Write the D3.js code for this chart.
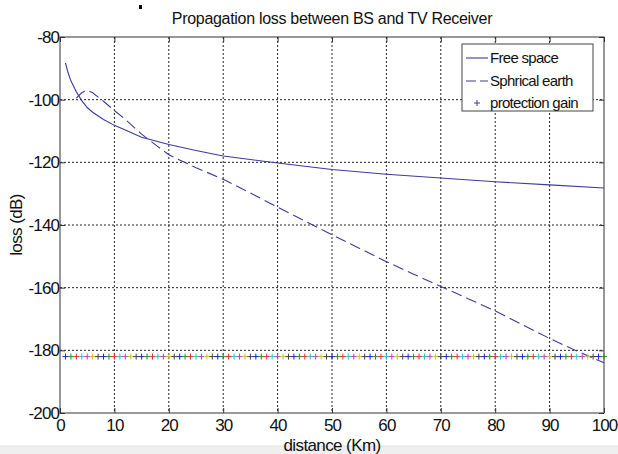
<!DOCTYPE html>
<html>
<head>
<meta charset="utf-8">
<script src="https://d3js.org/d3.v7.min.js"></script>
<style>
body { margin: 0; background: #fff; }
text { font-family: "Liberation Sans", Arial, sans-serif; fill: #111; }
</style>
</head>
<body>
<div id="chart"></div>
<script>

// free space loss
var freeDist = [1, 1.5, 2, 3, 4, 5, 6, 8, 10, 12, 15, 20, 25, 30, 40, 50, 60, 70, 80, 90, 100];
var freeLoss = [-88.3, -91.5, -94, -97.5, -100.3, -102.5, -104, -106.3, -108.2, -109.7, -112,
                -114.3, -116.2, -118, -120.2, -122.3, -123.8, -125, -126.2, -127.2, -128.2];

// spherical earth
var earthDist = [3, 4, 5, 6, 8, 10, 12, 15, 18, 20, 25, 30, 35, 40, 45, 50, 55, 60, 65, 70, 75, 80, 85, 90, 95, 100];
var earthLoss = [-99.5, -97.8, -97, -97.8, -100.5, -103.5, -106.3, -111, -115, -117.6, -121.7, -125.4,
                 -129.8, -134.3, -138.7, -143.1, -147.4, -151.7, -155.7, -159.6, -163.5, -167.4,
                 -171.8, -176.2, -180.2, -184];

// protection gain: one constant value at each km
var protDist = d3.range(1, 101);
var protGain = -182;

var xTicks = [0, 10, 20, 30, 40, 50, 60, 70, 80, 90, 100];
var yTicks = [-80, -100, -120, -140, -160, -180, -200];
var legendNames = ["Free space", "Sphrical earth", "protection gain"];
var markColors = ["#2222cc", "#2a8a2a", "#e03333", "#33bfbf", "#c03fc0", "#c2c23a", "#444444"];

var W = 618, H = 454;
var margin = {top: 37, right: 14, bottom: 41, left: 60},
    width = W - margin.left - margin.right,
    height = H - margin.top - margin.bottom;

var root = d3.select("#chart").append("svg")
  .attr("width", W)
  .attr("height", H);

root.append("rect").attr("width", W).attr("height", H).attr("fill", "#fff");

var svg = root.append("g")
  .attr("transform", "translate(" + margin.left + "," + margin.top + ")");

var x = d3.scaleLinear().domain([0, 100]).range([0, width]);
var y = d3.scaleLinear().domain([-200, -80]).range([height, 0]);

// grid
svg.selectAll("vgrid")
  .data(xTicks.slice(1, -1))
  .enter().append("line")
    .attr("x1", d => x(d)).attr("x2", d => x(d))
    .attr("y1", 0).attr("y2", height)
    .attr("stroke", "#222").attr("stroke-dasharray", "2,2");
svg.selectAll("hgrid")
  .data(yTicks.slice(1, -1))
  .enter().append("line")
    .attr("x1", 0).attr("x2", width)
    .attr("y1", d => y(d)).attr("y2", d => y(d))
    .attr("stroke", "#222").attr("stroke-dasharray", "2,2");

// axes (ticks inside, matlab style)
var fmt = d => String(d);
svg.append("g")
  .attr("transform", "translate(0," + height + ")")
  .call(d3.axisBottom(x).tickValues(xTicks).tickFormat(fmt).tickSize(-5).tickPadding(6))
  .call(g => g.select(".domain").remove());
svg.append("g")
  .call(d3.axisTop(x).tickValues(xTicks).tickSize(-5).tickFormat(""))
  .call(g => g.select(".domain").remove());
svg.append("g")
  .call(d3.axisLeft(y).tickValues(yTicks).tickFormat(fmt).tickSize(-5).tickPadding(1))
  .call(g => g.select(".domain").remove());
svg.append("g")
  .attr("transform", "translate(" + width + ",0)")
  .call(d3.axisRight(y).tickValues(yTicks).tickSize(-5).tickFormat(""))
  .call(g => g.select(".domain").remove());

svg.selectAll(".tick line").attr("stroke", "#333");
svg.selectAll(".tick text")
  .style("font-size", "17px")
  .style("letter-spacing", "-0.9px")
  .attr("fill", "#111");

svg.append("rect")
  .attr("width", width).attr("height", height)
  .attr("fill", "none").attr("stroke", "#333");

// series
var lineFn = d3.line().x(d => x(d[0])).y(d => y(d[1]));

svg.append("path")
  .datum(freeDist.map((d, i) => [d, freeLoss[i]]))
  .attr("d", lineFn)
  .attr("fill", "none")
  .attr("stroke", "#3b3b9e")
  .attr("stroke-width", 1.1);

svg.append("path")
  .datum(earthDist.map((d, i) => [d, earthLoss[i]]))
  .attr("d", lineFn)
  .attr("fill", "none")
  .attr("stroke", "#3b3b9e")
  .attr("stroke-width", 1.1)
  .attr("stroke-dasharray", "11,5");

svg.selectAll("mark")
  .data(protDist)
  .enter().append("path")
    .attr("transform", d => "translate(" + x(d) + "," + y(protGain) + ")")
    .attr("d", "M-3,0H3M0,-3V3")
    .attr("stroke", (d, i) => markColors[i % markColors.length])
    .attr("stroke-width", 1)
    .attr("fill", "none");

// legend
var lg = root.append("g").attr("transform", "translate(462,44)");
lg.append("rect")
  .attr("width", 131).attr("height", 67)
  .attr("fill", "#fff").attr("stroke", "#444");
var rowY = [14, 37, 59];
lg.append("line").attr("x1", 4).attr("x2", 26).attr("y1", rowY[0]).attr("y2", rowY[0])
  .attr("stroke", "#3b3b9e").attr("stroke-width", 1.1);
lg.append("line").attr("x1", 4).attr("x2", 26).attr("y1", rowY[1]).attr("y2", rowY[1])
  .attr("stroke", "#3b3b9e").attr("stroke-width", 1.1).attr("stroke-dasharray", "10,4");
lg.append("path").attr("transform", "translate(15," + rowY[2] + ")")
  .attr("d", "M-3,0H3M0,-3V3").attr("stroke", "#3b3b9e").attr("fill", "none");
lg.selectAll("lt")
  .data(legendNames)
  .enter().append("text")
    .attr("x", 28).attr("y", (d, i) => rowY[i])
    .attr("dy", "0.35em")
    .style("font-size", "15px")
    .style("letter-spacing", "-0.7px")
    .text(d => d);

// title + labels
root.append("text")
  .attr("x", margin.left + width / 2).attr("y", 24)
  .attr("text-anchor", "middle")
  .style("font-size", "16px")
  .style("letter-spacing", "-0.3px")
  .text("Propagation loss between BS and TV Receiver");

root.append("rect").attr("x", 139).attr("y", 5).attr("width", 3).attr("height", 4).attr("fill", "#000");

root.append("text")
  .attr("transform", "translate(22," + (margin.top + height / 2) + ") rotate(-90)")
  .attr("text-anchor", "middle")
  .style("font-size", "17px")
  .style("letter-spacing", "-0.6px")
  .text("loss (dB)");

// grey strip at the bottom of the screenshot
root.append("rect").attr("x", 0).attr("y", 446).attr("width", W).attr("height", 8).attr("fill", "#efefef");
root.append("line").attr("x1", 0).attr("x2", W).attr("y1", 446).attr("y2", 446).attr("stroke", "#e2e2e2");

root.append("text")
  .attr("x", margin.left + width / 2).attr("y", 451)
  .attr("text-anchor", "middle")
  .style("font-size", "17px")
  .style("letter-spacing", "-0.6px")
  .text("distance (Km)");

</script>
</body>
</html>
